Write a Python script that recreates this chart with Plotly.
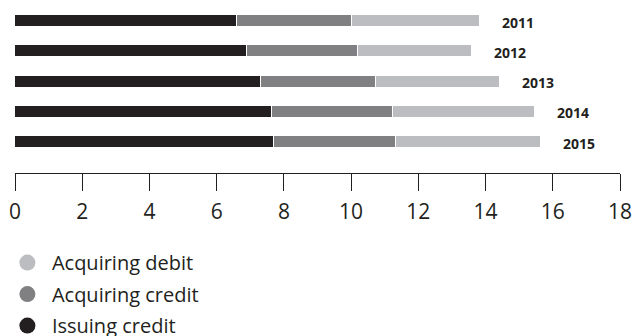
import plotly.graph_objects as go

years = ["2011", "2012", "2013", "2014", "2015"]
issuing_credit = [6.60, 6.89, 7.31, 7.65, 7.70]
acquiring_credit = [3.44, 3.31, 3.42, 3.59, 3.63]
acquiring_debit = [3.78, 3.39, 3.69, 4.22, 4.31]
x_ticks = [0, 2, 4, 6, 8, 10, 12, 14, 16, 18]

series = [
    ("Issuing credit", issuing_credit, "#231f20"),
    ("Acquiring credit", acquiring_credit, "#808083"),
    ("Acquiring debit", acquiring_debit, "#bcbdc0"),
]

ypos = list(range(len(years)))
fig = go.Figure()
for name, vals, col in series:
    fig.add_trace(go.Bar(
        x=vals, y=ypos, orientation="h", name=name,
        marker=dict(color=col, line=dict(color="white", width=1.5)),
        width=0.4, showlegend=False, hoverinfo="x+name"))
for name, vals, col in reversed(series):
    fig.add_trace(go.Scatter(
        x=[None], y=[None], mode="markers", name=name, legendgroup=name,
        marker=dict(color=col, size=18, symbol="circle")))

totals = [a + b + c for a, b, c in zip(issuing_credit, acquiring_credit, acquiring_debit)]
for yr, yp, tot in zip(years, ypos, totals):
    fig.add_annotation(x=tot, y=yp, text=yr, showarrow=False, xanchor="left",
                       xshift=20, yshift=-1,
                       font=dict(family="Open Sans", size=14, color="#231f20", weight="bold"))

fig.update_layout(
    width=634, height=336,
    margin=dict(l=15, r=14, t=0, b=163, autoexpand=False),
    plot_bgcolor="white", paper_bgcolor="white",
    barmode="stack", bargap=0,
    font=dict(family="Open Sans", color="#231f20"),
    showlegend=True,
    legend=dict(traceorder="grouped", x=-0.02, y=-0.405, xanchor="left", yanchor="top",
                font=dict(size=20, family="Open Sans", color="#231f20"),
                itemsizing="trace", itemwidth=39, tracegroupgap=2.5, bgcolor="rgba(0,0,0,0)"),
)
fig.update_xaxes(range=[0, 18], tickvals=x_ticks, ticktext=[str(t) for t in x_ticks],
                 showgrid=False, zeroline=False, showline=True, linecolor="#231f20",
                 linewidth=1, ticks="outside", ticklen=17, tickcolor="#231f20", tickwidth=1,
                 tickfont=dict(size=21, family="Open Sans", color="#231f20"),
                 ticklabeloverflow="allow", ticklabelstandoff=3,
                 side="bottom")
fig.update_yaxes(range=[5.02, -0.694], showticklabels=False, showgrid=False,
                 zeroline=False, showline=False, ticks="")

fig.write_html("out.html", config={"displayModeBar": False},
               post_script="document.body.style.margin='0';document.body.style.overflow='hidden';")
